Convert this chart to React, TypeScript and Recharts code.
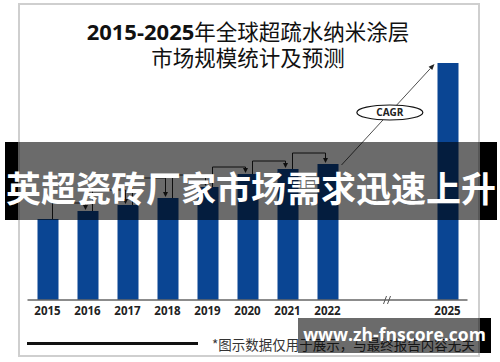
import React from "react";
import { BarChart, Bar, XAxis, YAxis, ReferenceLine, ReferenceDot } from "recharts";

// years on the axis (2023 / 2024 are the gap behind the axis break)
const years = ["2015", "2016", "2017", "2018", "2019", "2020", "2021", "2022", "2023", "2024", "2025"];
const marketSize = [81, 89, 95, 102, 113, 126, 131, 136, null, null, 237];
// height of each year-over-year bracket arrow (2015→2016 ... 2021→2022)
const bracketLevels = [97, 110, 122, 125, 133, 139, 147];
const hiddenTicks = ["2023", "2024"];

const BAR = "#0a4593";
const CJK = '"Noto Sans CJK SC", "Noto Sans", sans-serif';
const LATIN = '"Open Sans", "Noto Sans", sans-serif';

const data = years.map((year, i) => ({ year, value: marketSize[i] }));

function upLine(props: any) {
  return <line x1={props.x1 + 5} y1={props.y1} x2={props.x2 + 5} y2={props.y2} stroke="#222" strokeWidth={1} />;
}

function flatLine(props: any) {
  return <line x1={props.x1 + 5} y1={props.y1} x2={props.x2 - 2} y2={props.y2} stroke="#222" strokeWidth={1} />;
}

function downArrow(props: any) {
  const x = props.x2 - 2;
  const y = props.y2 - 1;
  return (
    <g>
      <line x1={x} y1={props.y1} x2={x} y2={y - 4} stroke="#222" strokeWidth={1} />
      <polygon points={`${x - 2.5},${y - 5} ${x + 2.5},${y - 5} ${x},${y}`} fill="#222" />
    </g>
  );
}

function cagrArrow(props: any) {
  const sx = props.x1 + 14;
  const sy = props.y1 + 1;
  const ex = props.x2 - 13;
  const ey = props.y2 + 1;
  const len = Math.hypot(ex - sx, ey - sy);
  const ux = (ex - sx) / len;
  const uy = (ey - sy) / len;
  const hx = ex - ux * 6;
  const hy = ey - uy * 6;
  const t = 0.52;
  const mx = sx + (ex - sx) * t;
  const my = sy + (ey - sy) * t;
  return (
    <g>
      <line x1={sx} y1={sy} x2={hx} y2={hy} stroke="#222" strokeWidth={0.8} />
      <polygon
        points={`${ex},${ey} ${hx - uy * 2.5},${hy + ux * 2.5} ${hx + uy * 2.5},${hy - ux * 2.5}`}
        fill="#222"
      />
      <ellipse cx={mx} cy={my} rx={33} ry={7.5} fill="#fff" stroke="#111" strokeWidth={1.2} />
      <text x={mx} y={my + 3.5} textAnchor="middle" fontFamily={LATIN} fontWeight={700} fontSize={10} fill="#222">
        CAGR
      </text>
    </g>
  );
}

function axisBreak(props: any) {
  const x = props.cx + 16;
  const y = props.cy;
  return (
    <g stroke="#555" strokeWidth={1}>
      <line x1={x} y1={y + 4} x2={x + 3} y2={y - 4} />
      <line x1={x + 4} y1={y + 4} x2={x + 7} y2={y - 4} />
    </g>
  );
}

export default function App() {
  return (
    <div style={{ position: "absolute", left: 0, top: 0, width: 500, height: 362, background: "#fff", overflow: "hidden" }}>
      {/* frame */}
      <div style={{ position: "absolute", left: 18, top: 3, width: 458, height: 350, border: "2px solid #cfcfcf" }} />

      <div style={{ position: "absolute", left: 0, top: 18, width: 496, textAlign: "center", fontSize: 21.5, lineHeight: "25px", color: "#111", fontFamily: CJK }}>
        <div>
          <span style={{ fontFamily: LATIN, fontWeight: 700, fontSize: 22 }}>2015-2025</span>年全球超疏水纳米涂层
        </div>
        <div>市场规模统计及预测</div>
      </div>

      <div style={{ position: "absolute", left: 0, top: 0 }}>
        <BarChart width={500} height={362} data={data} margin={{ top: 50, right: 32.5, bottom: 32, left: 27.5 }}>
          <XAxis
            dataKey="year"
            height={30}
            tickLine={false}
            tickSize={5}
            tickMargin={2}
            axisLine={{ stroke: "#666", strokeWidth: 1.5 }}
            tickFormatter={(v: string) => (hiddenTicks.includes(v) ? "" : v)}
            tick={{ fill: "#222", fontSize: 11.5, fontWeight: 700, fontFamily: LATIN }}
            interval={0}
          />
          <YAxis hide domain={[0, 250]} />
          <Bar dataKey="value" fill={BAR} barSize={21} isAnimationActive={false} />
          {bracketLevels.map((h, i) => (
            <ReferenceLine
              key={`u${i}`}
              segment={[{ x: years[i], y: marketSize[i] as number }, { x: years[i], y: h }]}
              shape={upLine}
            />
          ))}
          {bracketLevels.map((h, i) => (
            <ReferenceLine
              key={`h${i}`}
              segment={[{ x: years[i], y: h }, { x: years[i + 1], y: h }]}
              shape={flatLine}
            />
          ))}
          {bracketLevels.map((h, i) => (
            <ReferenceLine
              key={`d${i}`}
              segment={[{ x: years[i + 1], y: h }, { x: years[i + 1], y: marketSize[i + 1] as number }]}
              shape={downArrow}
            />
          ))}
          <ReferenceLine
            segment={[{ x: "2022", y: marketSize[7] as number }, { x: "2025", y: marketSize[10] as number }]}
            shape={cagrArrow}
          />
          <ReferenceDot x="2023" y={0} r={0} shape={axisBreak} />
        </BarChart>
      </div>

      {/* footnote */}
      <div style={{ position: "absolute", left: 27, top: 342, width: 171, height: 3, background: "#111" }} />
      <div style={{ position: "absolute", left: 212, top: 335, fontSize: 13.5, lineHeight: "18px", color: "#333", fontFamily: CJK, whiteSpace: "nowrap" }}>
        *图示数据仅用于展示，与最终报告内容无关
      </div>

      {/* banner */}
      <div style={{ position: "absolute", left: 5, top: 142, width: 13, height: 78, background: "#000" }} />
      <div style={{ position: "absolute", left: 18, top: 142, width: 462, height: 78, background: "rgba(0,0,0,0.58)" }} />
      <div style={{ position: "absolute", left: 480, top: 142, width: 17, height: 78, background: "#000" }} />
      <div style={{ position: "absolute", left: 5, top: 169, width: 492, height: 36, textAlign: "center", fontSize: 35, lineHeight: "36px", fontWeight: 700, color: "#fff", fontFamily: CJK, whiteSpace: "nowrap" }}>
        英超瓷砖厂家市场需求迅速上升
      </div>

      {/* watermark */}
      <div style={{ position: "absolute", left: 298, top: 318, width: 182, height: 35, background: "rgba(0,0,0,0.58)" }} />
      <div style={{ position: "absolute", left: 480, top: 318, width: 11, height: 35, background: "#000" }} />
      <div style={{ position: "absolute", left: 298, top: 318, width: 193, height: 35, lineHeight: "33px", textAlign: "center", fontSize: 17.5, fontWeight: 700, color: "#fff", fontFamily: LATIN, whiteSpace: "nowrap" }}>
        www.zh-fnscore.com
      </div>
    </div>
  );
}
